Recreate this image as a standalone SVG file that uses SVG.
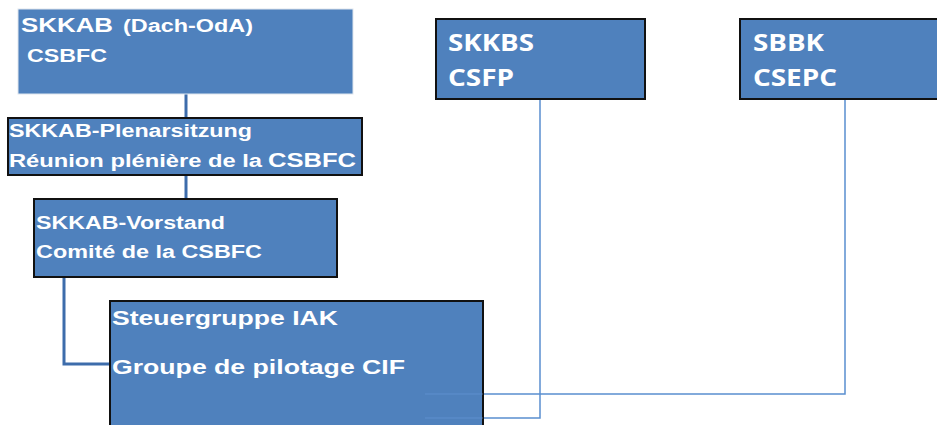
<svg xmlns="http://www.w3.org/2000/svg" width="937" height="425" viewBox="0 0 937 425">
<style>
.box{fill:#4F81BD;stroke:#111;stroke-width:2}
.box0{fill:#4F81BD;stroke:#dfe6ee;stroke-width:1}
.t{font-family:"Liberation Sans",Arial,sans-serif;font-weight:bold;fill:#fff}
.o{font-family:"Open Sans","Noto Sans",sans-serif;font-weight:bold;fill:#fff;font-size:24px}
.c1{fill:none;stroke:#3D6CAB;stroke-width:3}
.c2{fill:none;stroke:#5A8FD0;stroke-width:1.5}
</style>
<rect width="937" height="425" fill="#fff"/>
<g id="connectors">
<path class="c1" d="M186 94V118"/>
<path class="c1" d="M186 175V199"/>
<path class="c1" d="M64 277V364H110"/>
<path class="c2" d="M540 99V418H425"/>
<path class="c2" d="M845 99V394H425"/>
</g>
<g id="skkab">
<rect class="box0" x="18" y="9" width="335" height="85"/>
<text class="t" x="21" y="32" font-size="21" textLength="92" lengthAdjust="spacingAndGlyphs">SKKAB</text>
<text class="t" x="123" y="32" font-size="18" textLength="130" lengthAdjust="spacingAndGlyphs">(Dach-OdA)</text>
<text class="t" x="27" y="62" font-size="18" textLength="80" lengthAdjust="spacingAndGlyphs">CSBFC</text>
</g>
<g id="plenar">
<rect class="box" x="8" y="118" width="354" height="57"/>
<text class="t" x="9" y="137" font-size="18" textLength="243" lengthAdjust="spacingAndGlyphs">SKKAB-Plenarsitzung</text>
<text class="t" x="9" y="167" font-size="18" textLength="253" lengthAdjust="spacingAndGlyphs">Réunion plénière de la</text>
<text class="t" x="268" y="167" font-size="21" textLength="88" lengthAdjust="spacingAndGlyphs">CSBFC</text>
</g>
<g id="vorstand">
<rect class="box" x="34" y="199" width="303" height="78"/>
<text class="t" x="36" y="229" font-size="18" textLength="189" lengthAdjust="spacingAndGlyphs">SKKAB-Vorstand</text>
<text class="t" x="36" y="258" font-size="18" textLength="226" lengthAdjust="spacingAndGlyphs">Comité de la CSBFC</text>
</g>
<g id="steuergruppe">
<rect class="box" x="110" y="301" width="373" height="130"/>
<text class="t" x="112" y="325" font-size="21" textLength="226" lengthAdjust="spacingAndGlyphs">Steuergruppe IAK</text>
<text class="t" x="112" y="374" font-size="21" textLength="293" lengthAdjust="spacingAndGlyphs">Groupe de pilotage CIF</text>
<path d="M425 394H483M425 418H483" stroke="#6A9ADA" stroke-width="1" opacity="0.6"/>
</g>
<g id="skkbs">
<rect class="box" x="436" y="19" width="209" height="80"/>
<text class="o" x="448" y="51" textLength="86" lengthAdjust="spacingAndGlyphs">SKKBS</text>
<text class="o" x="448" y="86" textLength="66" lengthAdjust="spacingAndGlyphs">CSFP</text>
</g>
<g id="sbbk">
<rect class="box" x="740" y="19" width="205" height="80"/>
<text class="o" x="753" y="51" textLength="71" lengthAdjust="spacingAndGlyphs">SBBK</text>
<text class="o" x="753" y="86" textLength="84" lengthAdjust="spacingAndGlyphs">CSEPC</text>
</g>
</svg>
